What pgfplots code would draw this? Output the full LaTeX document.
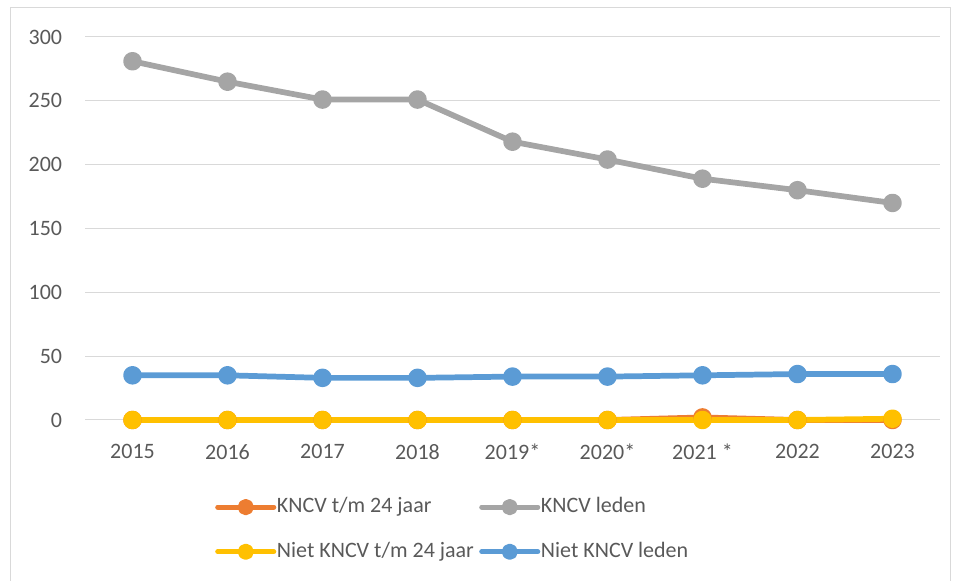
\documentclass[border=0pt]{standalone}
\usepackage{pgfplots}
\pgfplotsset{compat=1.18}
\usepackage{fontspec}
\setmainfont{Carlito}
\definecolor{cOrange}{HTML}{ED7D31}
\definecolor{cGray}{HTML}{A5A5A5}
\definecolor{cYellow}{HTML}{FFC000}
\definecolor{cBlue}{HTML}{5B9BD5}
\definecolor{cText}{HTML}{595959}
\definecolor{cGrid}{HTML}{D9D9D9}
\begin{document}
\begin{tikzpicture}
\fontsize{16.5}{19}\selectfont
\path[use as bounding box] (0,0) rectangle (717pt,435.75pt);
\draw[cGrid, line width=0.75pt] (7.5pt,0pt) -- (7.5pt,429.75pt) -- (712.5pt,429.75pt) -- (712.5pt,0pt);
\begin{axis}[
  at={(63.75pt,120.75pt)}, anchor=south west,
  scale only axis, width=641.25pt, height=287.25pt,
  xmin=-0.5, xmax=8.5, ymin=0, ymax=300,
  xtick={0,...,8},
  xticklabels={2015,2016,2017,2018,2019*,2020*,2021 *,2022,2023},
  ytick={0,50,...,300},
  axis line style={draw=none},
  major tick length=0pt,
  ymajorgrids, grid style={cGrid, line width=0.75pt},
  tick label style={font=\fontsize{16.5}{19}\selectfont, text=cText},
  /pgf/number format/assume math mode=true,
  yticklabel style={inner sep=0pt, anchor=east, xshift=-17pt},
  xticklabel style={inner sep=0pt, anchor=north, yshift=-18pt},
  clip=false,
  every axis plot/.append style={line width=4.3pt, line join=round, line cap=round, mark=*, mark size=4.8pt, mark options={line width=0pt}},
  legend columns=2,
  legend cell align=left,
  legend style={draw=none, fill=none, inner sep=0pt, at={(0.152,-0.198)}, anchor=north west,
    font=\fontsize{16.5}{19}\selectfont, text=cText,
    nodes={inner sep=0pt, text depth=0.25em, text height=0.75em},
    row sep=17pt,
    /tikz/every odd column/.append style={column sep=0.5pt},
    /tikz/every even column/.append style={column sep=4pt}},
  legend image code/.code={\draw[#1, line width=3.8pt, mark repeat=2, mark phase=2] plot[mark size=4.2pt] coordinates {(0pt,0pt) (21pt,0pt) (42pt,0pt)};},
]
\addplot[cOrange, mark options={fill=cOrange}] coordinates {(0,0) (1,0) (2,0) (3,0) (4,0) (5,0) (6,2) (7,0) (8,0)};
\addlegendentry{KNCV t/m 24 jaar}
\addplot[cGray, mark options={fill=cGray}] coordinates {(0,281) (1,265) (2,251) (3,251) (4,218) (5,204) (6,189) (7,180) (8,170)};
\addlegendentry{KNCV leden}
\addplot[cYellow, mark options={fill=cYellow}] coordinates {(0,0) (1,0) (2,0) (3,0) (4,0) (5,0) (6,0) (7,0) (8,1)};
\addlegendentry{Niet KNCV t/m 24 jaar}
\addplot[cBlue, mark options={fill=cBlue}] coordinates {(0,35) (1,35) (2,33) (3,33) (4,34) (5,34) (6,35) (7,36) (8,36)};
\addlegendentry{Niet KNCV leden}
\end{axis}
\end{tikzpicture}
\end{document}
